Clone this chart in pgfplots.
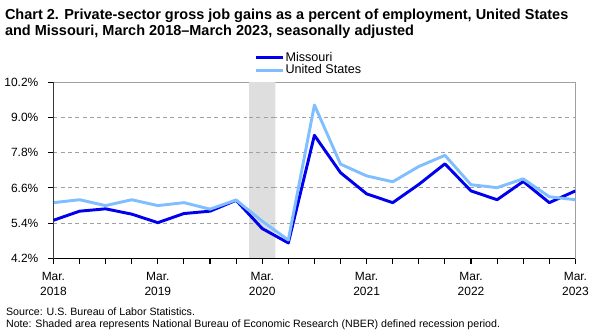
\documentclass[border=0pt]{standalone}
\usepackage{pgfplots}
\pgfplotsset{compat=1.18}
\usepackage{pgfplotstable}
\usepackage{fontspec}
\setmainfont{Liberation Sans}
\definecolor{mo}{HTML}{0000EE}
\definecolor{us}{HTML}{80BFFF}
\definecolor{shade}{HTML}{DEDEDE}
\definecolor{gridc}{HTML}{A0A0A0}
\pgfplotstableread{
x mo us
0 5.50 6.10
1 5.81 6.20
2 5.89 6.00
3 5.71 6.20
4 5.42 6.00
5 5.73 6.10
6 5.81 5.88
7 6.18 6.19
8 5.22 5.47
9 4.73 4.83
10 8.39 9.42
11 7.12 7.41
12 6.40 7.01
13 6.10 6.81
14 6.72 7.33
15 7.42 7.71
16 6.50 6.71
17 6.20 6.61
18 6.82 6.91
19 6.10 6.30
20 6.50 6.20
}\datatable
\begin{document}
\begin{tikzpicture}
\begin{axis}[
  at={(38.8pt,56pt)}, anchor=south west,
  scale only axis, width=392.7pt, height=132.75pt,
  xmin=0, xmax=20, ymin=4.2, ymax=10.2,
  xtick={0,4,...,20}, minor xtick={0,...,20},
  xticklabels={{Mar.\\2018},{Mar.\\2019},{Mar.\\2020},{Mar.\\2021},{Mar.\\2022},{Mar.\\2023}},
  xticklabel style={align=center, font=\fontsize{9}{11}\selectfont, yshift=-3pt},
  ytick={4.2,5.4,6.6,7.8,9.0,10.2},
  yticklabel={\pgfmathprintnumber[fixed,fixed zerofill,precision=1]{\tick}\%},
  yticklabel style={font=\fontsize{9}{11}\selectfont, xshift=-4pt},
  /pgf/number format/assume math mode=true,
  tick align=outside, xtick pos=left, ytick pos=left,
  major tick length=3.8pt, minor tick length=3.8pt,
  tick style={black, line width=0.8pt},
  minor tick style={black, line width=0.8pt},
  axis line style={gridc, line width=0.8pt},
  ymajorgrids, grid style={gridc, dash pattern=on 3pt off 2.5pt, line width=0.75pt},
  legend style={draw=none, fill=none, at={(0.3845,1.03)}, anchor=south west,
    font=\fontsize{9.5}{10}\selectfont, inner sep=0pt, row sep=0pt,
    nodes={inner sep=0.5pt}, cells={anchor=west}},
  legend image code/.code={\draw[#1] (0pt,0pt) -- (20.7pt,0pt);},
]
\addplot[fill=shade, draw=none, forget plot] coordinates {(7.5,4.2) (8.5,4.2) (8.5,10.2) (7.5,10.2) (7.5,4.2)};
\draw[gridc, dash pattern=on 3pt off 2.5pt, line width=0.75pt] (axis cs:7.5,5.4) -- (axis cs:8.5,5.4);
\draw[gridc, dash pattern=on 3pt off 2.5pt, line width=0.75pt] (axis cs:7.5,6.6) -- (axis cs:8.5,6.6);
\draw[gridc, dash pattern=on 3pt off 2.5pt, line width=0.75pt] (axis cs:7.5,7.8) -- (axis cs:8.5,7.8);
\draw[gridc, dash pattern=on 3pt off 2.5pt, line width=0.75pt] (axis cs:7.5,9.0) -- (axis cs:8.5,9.0);
\addplot[mo, line width=2.2pt, line join=round] table[x=x, y=mo] {\datatable};
\addlegendentry{Missouri}
\addplot[us, line width=2.2pt, line join=round] table[x=x, y=us] {\datatable};
\addlegendentry{United States}
\draw[black, line width=0.8pt] (axis cs:0,10.2) -- (axis cs:0,4.2) -- (axis cs:20,4.2);
\end{axis}
\node[anchor=base west, font=\bfseries\fontsize{10.9}{13}\selectfont, inner sep=0pt] at (2.2pt,236pt) {Chart 2. Private-sector gross job gains as a percent of employment, United States};
\node[anchor=base west, font=\bfseries\fontsize{10.9}{13}\selectfont, inner sep=0pt] at (2.2pt,223.7pt) {and Missouri, March 2018--March 2023, seasonally adjusted};
\node[anchor=base west, font=\fontsize{8}{9}\selectfont, inner sep=0pt] at (3pt,13.5pt) {Source: U.S. Bureau of Labor Statistics.};
\node[anchor=base west, font=\fontsize{8}{9}\selectfont, inner sep=0pt] at (3pt,4pt) {Note: Shaded area represents National Bureau of Economic Research (NBER) defined recession period.};
\path (0,0) rectangle (451.5pt,250.5pt);
\end{tikzpicture}
\end{document}
